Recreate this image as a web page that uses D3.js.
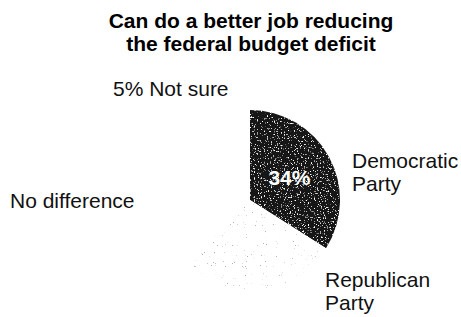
<!DOCTYPE html>
<html>
<head>
<meta charset="utf-8">
<script src="https://cdn.jsdelivr.net/npm/d3@7"></script>
<style>
  body { margin: 0; background: #fff; }
  text { font-family: "Liberation Sans", Arial, Helvetica, sans-serif; }
</style>
</head>
<body>
<div id="chart"></div>
<script>
const titleLines = ['Can do a better job reducing', 'the federal budget deficit']
const categories = ['Democratic Party', 'Republican Party', 'No difference', 'Not sure']
const values = [34, 28, 33, 5]
const sliceLabels = [['Democratic', 'Party'], ['Republican', 'Party'], ['No difference'], ['5% Not sure']]
const valueShown = [true, false, false, false]

const width = 461
const height = 317
const center = { x: 250, y: 200 }
const radius = 90

// where each outside label starts (left edge, first baseline)
const labelAt = {
    'Democratic Party': [352, 168],
    'Republican Party': [325, 287],
    'No difference': [10, 208],
    'Not sure': [113, 96]
}
const fills = {
    'Democratic Party': '#151515',
    'Republican Party': '#ffffff',
    'No difference': '#ffffff',
    'Not sure': '#ffffff'
}
const grains = {
    'Democratic Party': 'url(#grain)',
    'Republican Party': 'url(#faint)'
}

const svg = d3.select('#chart')
    .append('svg')
        .attr('width', width)
        .attr('height', height)

// speckled look of the printed screen tone
const defs = svg.append('defs')
const makeGrain = (id, rgb, matrixAlpha, freq, seed) => {
    const f = defs.append('filter').attr('id', id)
        .attr('x', 0).attr('y', 0).attr('width', 1).attr('height', 1)
    f.append('feTurbulence')
        .attr('type', 'fractalNoise').attr('baseFrequency', freq)
        .attr('numOctaves', 2).attr('seed', seed).attr('result', 'noise')
    f.append('feColorMatrix')
        .attr('in', 'noise').attr('type', 'matrix')
        .attr('values', `0 0 0 0 ${rgb}  0 0 0 0 ${rgb}  0 0 0 0 ${rgb}  ${matrixAlpha}`)
        .attr('result', 'specks')
    f.append('feComposite')
        .attr('in', 'specks').attr('in2', 'SourceGraphic').attr('operator', 'atop')
}
makeGrain('grain', 1, '7 0 0 0 -4.3', 0.7, 4)
makeGrain('faint', 0.45, '0 14 0 0 -10.2', 1.1, 9)

const title = svg.append('text')
    .attr('x', 251)
    .attr('y', 28)
    .attr('text-anchor', 'middle')
    .style('font-size', '21px')
    .style('font-weight', 'bold')
title.selectAll('tspan')
    .data(titleLines)
    .enter()
    .append('tspan')
        .attr('x', 251)
        .attr('dy', (d, i) => i ? 23 : 0)
        .text(d => d)

const pie = d3.pie().sort(null).value(d => d.value)
const arc = d3.arc().innerRadius(0).outerRadius(radius)
const labelArc = d3.arc().innerRadius(radius * 0.5).outerRadius(radius * 0.5)

const data = categories.map((c, i) => ({ category: c, value: values[i] }))

const g = svg.append('g')
    .attr('transform', `translate(${center.x}, ${center.y})`)

g.selectAll('path')
    .data(pie(data))
    .enter()
    .append('path')
        .attr('d', arc)
        .attr('fill', d => fills[d.data.category])
        .attr('filter', d => grains[d.data.category] || null)

g.selectAll('text.value')
    .data(pie(data).filter((d, i) => valueShown[i]))
    .enter()
    .append('text')
        .attr('class', 'value')
        .attr('transform', d => `translate(${labelArc.centroid(d)})`)
        .attr('dy', 7)
        .attr('text-anchor', 'middle')
        .attr('fill', '#fff')
        .style('font-size', '21px')
        .style('font-weight', 'bold')
        .text(d => d.value + '%')

categories.forEach((c, i) => {
    const [x, y] = labelAt[c]
    const t = svg.append('text')
        .attr('x', x)
        .attr('y', y)
        .attr('fill', '#111')
        .style('font-size', '21px')
    t.selectAll('tspan')
        .data(sliceLabels[i])
        .enter()
        .append('tspan')
            .attr('x', x)
            .attr('dy', (d, j) => j ? 23 : 0)
            .text(d => d)
})
</script>
</body>
</html>
